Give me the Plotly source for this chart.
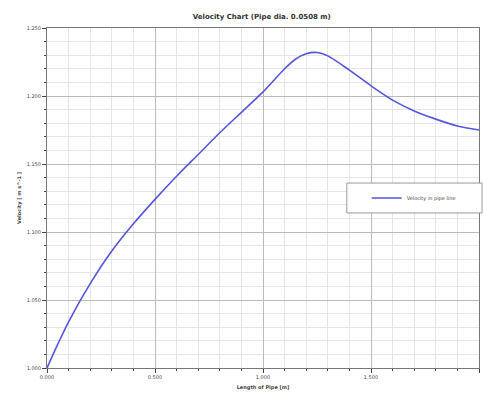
import plotly.graph_objects as go

# Data
length_m = [0.0, 0.05, 0.1, 0.2, 0.3, 0.4, 0.5, 0.6, 0.7, 0.8, 0.9, 1.0, 1.1, 1.15, 1.2, 1.25, 1.3,
            1.4, 1.5, 1.6, 1.7, 1.8, 1.9, 2.0]
velocity = [1.000, 1.0175, 1.034, 1.062, 1.086, 1.106, 1.124, 1.141, 1.157, 1.173, 1.188, 1.203, 1.220,
            1.227, 1.231, 1.232, 1.2295, 1.219, 1.2075, 1.197, 1.189, 1.183, 1.178, 1.175]

x_ticks = [0.0, 0.5, 1.0, 1.5, 2.0]
x_labels = ["0.000", "0.500", "1.000", "1.500", "2.000"]
y_ticks = [1.00, 1.05, 1.10, 1.15, 1.20, 1.25]
y_labels = ["1.000", "1.050", "1.100", "1.150", "1.200", "1.250"]

fig = go.Figure()
fig.add_trace(go.Scatter(x=length_m, y=velocity, mode="lines",
                         line=dict(color="#5555dd", width=1.6, shape="spline", smoothing=0.8),
                         name="Velocity in pipe line"))

# legend frame
fig.add_shape(type="rect", xref="paper", yref="paper", x0=0.694, x1=1.007, y0=0.456, y1=0.544,
              fillcolor="white", line=dict(color="#999", width=1), layer="above")

fig.update_layout(
    width=483, height=396,
    margin=dict(l=47, r=4, t=28, b=28),
    paper_bgcolor="white", plot_bgcolor="white",
    font=dict(family="DejaVu Sans", size=5, color="#444"),
    title=dict(text="<b>Velocity Chart (Pipe dia. 0.0508 m)</b>", x=0.542, xanchor="center", y=0.958,
               yanchor="middle", font=dict(size=7, color="#333")),
    showlegend=True,
    legend=dict(x=0.74, y=0.5, xanchor="left", yanchor="middle", bgcolor="rgba(0,0,0,0)",
                borderwidth=0, font=dict(size=5), itemwidth=30),
)
fig.update_xaxes(range=[0, 2.0], tickvals=x_ticks, ticktext=x_labels, showgrid=True, gridcolor="#bbbbbb",
                 gridwidth=1, minor=dict(dtick=0.1, showgrid=True, gridcolor="#e6e6e6", ticks="outside", ticklen=2),
                 ticks="outside", ticklen=4, showline=True, linecolor="#777", mirror=True, zeroline=False,
                 title=dict(text="<b>Length of Pipe [m]</b>", font=dict(size=5), standoff=6))
fig.update_yaxes(range=[1.0, 1.25], tickvals=y_ticks, ticktext=y_labels, showgrid=True, gridcolor="#bbbbbb",
                 gridwidth=1, minor=dict(dtick=0.01, showgrid=True, gridcolor="#e6e6e6", ticks="outside", ticklen=2),
                 ticks="outside", ticklen=4, showline=True, linecolor="#777", mirror=True, zeroline=False,
                 title=dict(text="<b>Velocity [ m s^-1 ]</b>", font=dict(size=5), standoff=4))

fig.write_html("out.html")
